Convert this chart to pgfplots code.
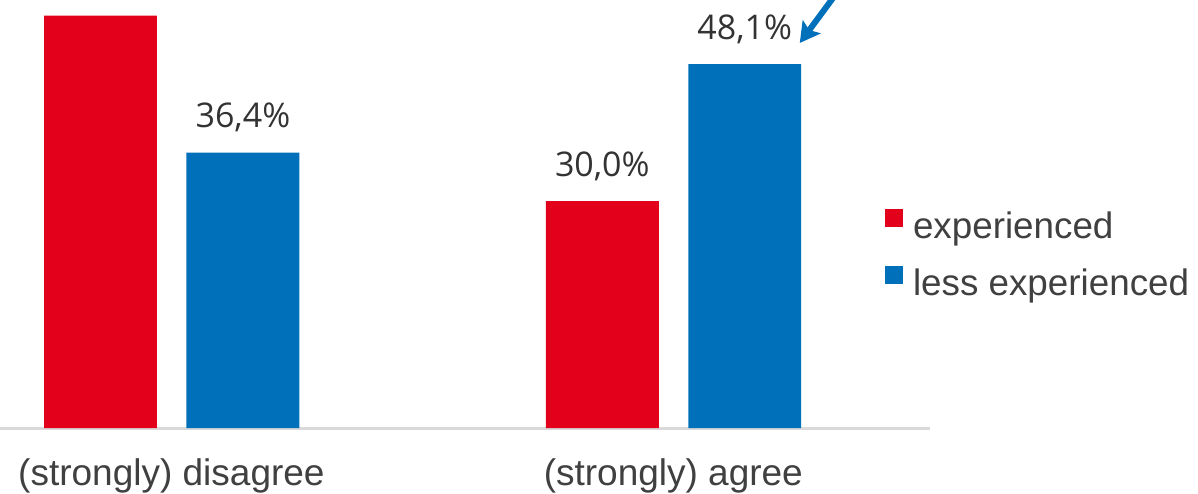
\documentclass[border=0pt]{standalone}
\usepackage{pgfplots}
\pgfplotsset{compat=1.18}
\usetikzlibrary{arrows.meta}
\usepackage{fontspec}
\setmainfont{Liberation Sans}
\newfontfamily\valfont{Open Sans}
\definecolor{expred}{RGB}{226,0,26}
\definecolor{lessblue}{RGB}{0,112,186}
\definecolor{txtgray}{RGB}{64,64,64}
\definecolor{valgray}{RGB}{51,51,51}
\definecolor{axgray}{RGB}{217,217,217}

\begin{document}
\begin{tikzpicture}
\useasboundingbox (0,-32.5pt) rectangle (599pt,214pt);
\begin{axis}[
  at={(0,0)}, anchor=south west,
  scale only axis, width=465pt, height=214pt,
  xmin=-0.3416, xmax=1.5115, ymin=0, ymax=56.58,
  axis x line=bottom, axis y line=none,
  x axis line style={-, draw=axgray, line width=1.5pt},
  ytick=\empty, xtick={0,1},
  xticklabels={(strongly) disagree,(strongly) agree},
  major tick length=0pt,
  xticklabel style={anchor=base, yshift=-28.5pt, text=txtgray,
    font=\fontsize{18.5}{22}\selectfont, inner sep=0pt},
  ybar, bar width=0.225,
  clip=false,
  point meta=explicit symbolic,
  nodes near coords={\pgfplotspointmeta},
  nodes near coords style={anchor=base, yshift=12.5pt, inner sep=0pt,
    text=valgray, font=\valfont\fontsize{17}{20}\selectfont},
  legend style={at={(rel axis cs:0.9516,0.4077)}, anchor=west,
    draw=none, fill=none, inner sep=0pt, outer sep=0pt, row sep=12pt,
    column sep=5pt, font=\fontsize{18.4}{22}\selectfont, text=txtgray,
    nodes={inner sep=0pt}},
  legend cell align=left,
  legend image code/.code={\fill[#1, draw=none] (0pt,0pt) rectangle (9pt,9pt);},
]
\addplot[fill=expred, draw=none, bar shift=-0.1414]
  coordinates {(0,54.5) [{}] (1,30.0) [{30,0\%}]};
\addplot[fill=lessblue, draw=none, bar shift=0.1424]
  coordinates {(0,36.4) [{36,4\%}] (1,48.1) [{48,1\%}]};
\legend{experienced, less experienced}
\draw[lessblue, line width=3pt, -{Stealth[length=10pt, width=11pt, inset=2pt]}]
  (axis cs:1.360,60.6) -- (axis cs:1.252,50.9);
\end{axis}
\end{tikzpicture}
\end{document}
